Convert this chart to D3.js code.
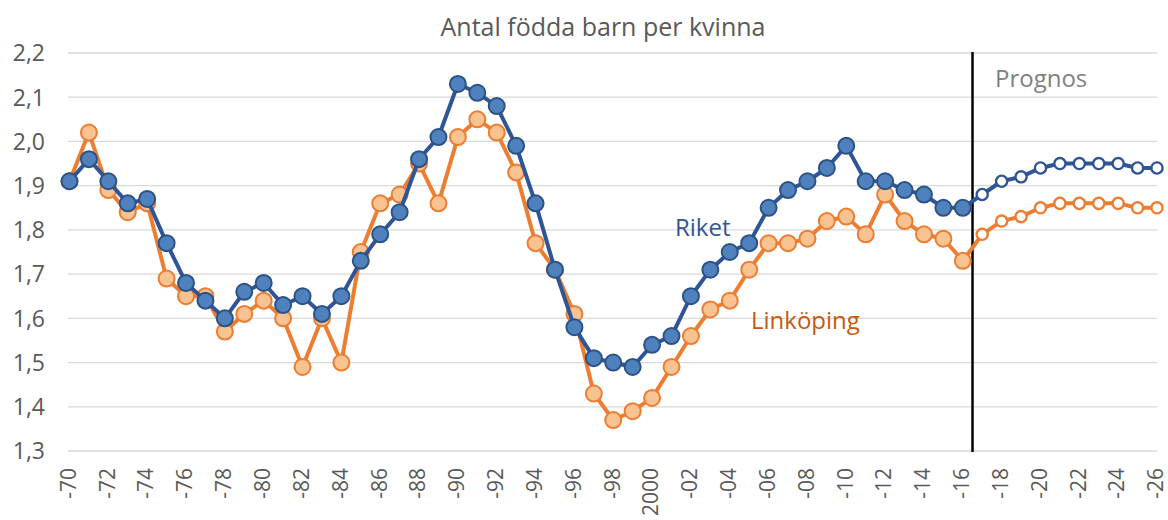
<!DOCTYPE html>
<html>
<head>
<meta charset="utf-8">
<script src="https://cdn.jsdelivr.net/npm/d3@7"></script>
<style>
  html, body { margin: 0; padding: 0; background: #fff; }
  svg { display: block; }
  text { font-family: "Open Sans", "Noto Sans", sans-serif; }
</style>
</head>
<body>
<svg id="chart" width="1168" height="520"></svg>
<script>
// ---- Data ----
const years = [1970,1971,1972,1973,1974,1975,1976,1977,1978,1979,
  1980,1981,1982,1983,1984,1985,1986,1987,1988,1989,
  1990,1991,1992,1993,1994,1995,1996,1997,1998,1999,
  2000,2001,2002,2003,2004,2005,2006,2007,2008,2009,
  2010,2011,2012,2013,2014,2015,2016];
const prognosYears = [2016,2017,2018,2019,2020,2021,2022,2023,2024,2025,2026];

const riket = [1.91,1.96,1.91,1.86,1.87,1.77,1.68,1.64,1.60,1.66,
  1.68,1.63,1.65,1.61,1.65,1.73,1.79,1.84,1.96,2.01,
  2.13,2.11,2.08,1.99,1.86,1.71,1.58,1.51,1.50,1.49,
  1.54,1.56,1.65,1.71,1.75,1.77,1.85,1.89,1.91,1.94,
  1.99,1.91,1.91,1.89,1.88,1.85,1.85];
const riketPrognos = [1.85,1.88,1.91,1.92,1.94,1.95,1.95,1.95,1.95,1.94,1.94];

const linkoping = [1.91,2.02,1.89,1.84,1.86,1.69,1.65,1.65,1.57,1.61,
  1.64,1.60,1.49,1.60,1.50,1.75,1.86,1.88,1.95,1.86,
  2.01,2.05,2.02,1.93,1.77,1.71,1.61,1.43,1.37,1.39,
  1.42,1.49,1.56,1.62,1.64,1.71,1.77,1.77,1.78,1.82,
  1.83,1.79,1.88,1.82,1.79,1.78,1.73];
const linkopingPrognos = [1.73,1.79,1.82,1.83,1.85,1.86,1.86,1.86,1.86,1.85,1.85];

const yTicks = [1.3,1.4,1.5,1.6,1.7,1.8,1.9,2.0,2.1,2.2];
const xTickYears = [1970,1972,1974,1976,1978,1980,1982,1984,1986,1988,1990,1992,1994,1996,1998,
  2000,2002,2004,2006,2008,2010,2012,2014,2016,2018,2020,2022,2024,2026];
const xTickLabels = ["-70","-72","-74","-76","-78","-80","-82","-84","-86","-88","-90","-92","-94","-96","-98",
  "2000","-02","-04","-06","-08","-10","-12","-14","-16","-18","-20","-22","-24","-26"];
const prognosStart = 2016.5;

// ---- Chart ----
const svg = d3.select("#chart");
const x = d3.scaleLinear().domain([1970, 2026]).range([69.5, 1157]);
const y = d3.scaleLinear().domain([1.3, 2.2]).range([451, 53]);
const fmt = v => d3.format(".1f")(v).replace(".", ",");

// gridlines
svg.append("g").selectAll("line").data(yTicks).join("line")
  .attr("x1", 68).attr("x2", 1157)
  .attr("y1", d => y(d)).attr("y2", d => y(d))
  .attr("stroke", "#d9d9d9").attr("stroke-width", 1.3);

// y axis labels
svg.append("g").selectAll("text").data(yTicks).join("text")
  .attr("x", 45).attr("y", d => y(d))
  .attr("dy", "0.36em")
  .attr("text-anchor", "end")
  .attr("font-size", 23)
  .attr("fill", "#595959")
  .text(d => fmt(d));

// x axis labels (rotated)
svg.append("g").selectAll("text").data(xTickYears).join("text")
  .attr("transform", d => `translate(${x(d)},468) rotate(-90)`)
  .attr("dy", "0.3em")
  .attr("text-anchor", "end")
  .attr("font-size", 21)
  .attr("fill", "#595959")
  .text((d, i) => xTickLabels[i]);

// title
svg.append("text")
  .attr("x", 603).attr("y", 36)
  .attr("text-anchor", "middle")
  .attr("font-size", 25)
  .attr("fill", "#595959")
  .text("Antal födda barn per kvinna");

// prognosis divider
svg.append("line")
  .attr("x1", x(prognosStart)).attr("x2", x(prognosStart))
  .attr("y1", 52).attr("y2", 452)
  .attr("stroke", "#000").attr("stroke-width", 2.5);

const line = d3.line().x(d => x(d[0])).y(d => y(d[1]));

function drawSeries(hist, prog, lineColor, strokeColor, fillColor) {
  const h = years.map((yr, i) => [yr, hist[i]]);
  const p = prognosYears.map((yr, i) => [yr, prog[i]]);
  const g = svg.append("g");
  g.append("path").datum(h).attr("d", line)
    .attr("fill", "none").attr("stroke", lineColor).attr("stroke-width", 4)
    .attr("stroke-linejoin", "round");
  g.append("path").datum(p).attr("d", line)
    .attr("fill", "none").attr("stroke", lineColor).attr("stroke-width", 4)
    .attr("stroke-linejoin", "round");
  g.selectAll("circle.h").data(h).join("circle").attr("class", "h")
    .attr("cx", d => x(d[0])).attr("cy", d => y(d[1]))
    .attr("r", 8)
    .attr("fill", fillColor).attr("stroke", strokeColor).attr("stroke-width", 2);
  g.selectAll("circle.p").data(p.slice(1)).join("circle").attr("class", "p")
    .attr("cx", d => x(d[0])).attr("cy", d => y(d[1]))
    .attr("r", 5.6)
    .attr("fill", "#fff").attr("stroke", lineColor).attr("stroke-width", 2.4);
}

drawSeries(linkoping, linkopingPrognos, "#ED7D31", "#ED7D31", "#F9C291");
drawSeries(riket, riketPrognos, "#2F5597", "#2C5286", "#4F81BD");

// series labels
svg.append("text").attr("x", 675).attr("y", 236)
  .attr("font-size", 24).attr("fill", "#2F5597").text("Riket");
svg.append("text").attr("x", 751).attr("y", 329)
  .attr("font-size", 24).attr("fill", "#C55A11").text("Linköping");
svg.append("text").attr("x", 995).attr("y", 87)
  .attr("font-size", 24).attr("fill", "#808080").text("Prognos");
</script>
</body>
</html>
